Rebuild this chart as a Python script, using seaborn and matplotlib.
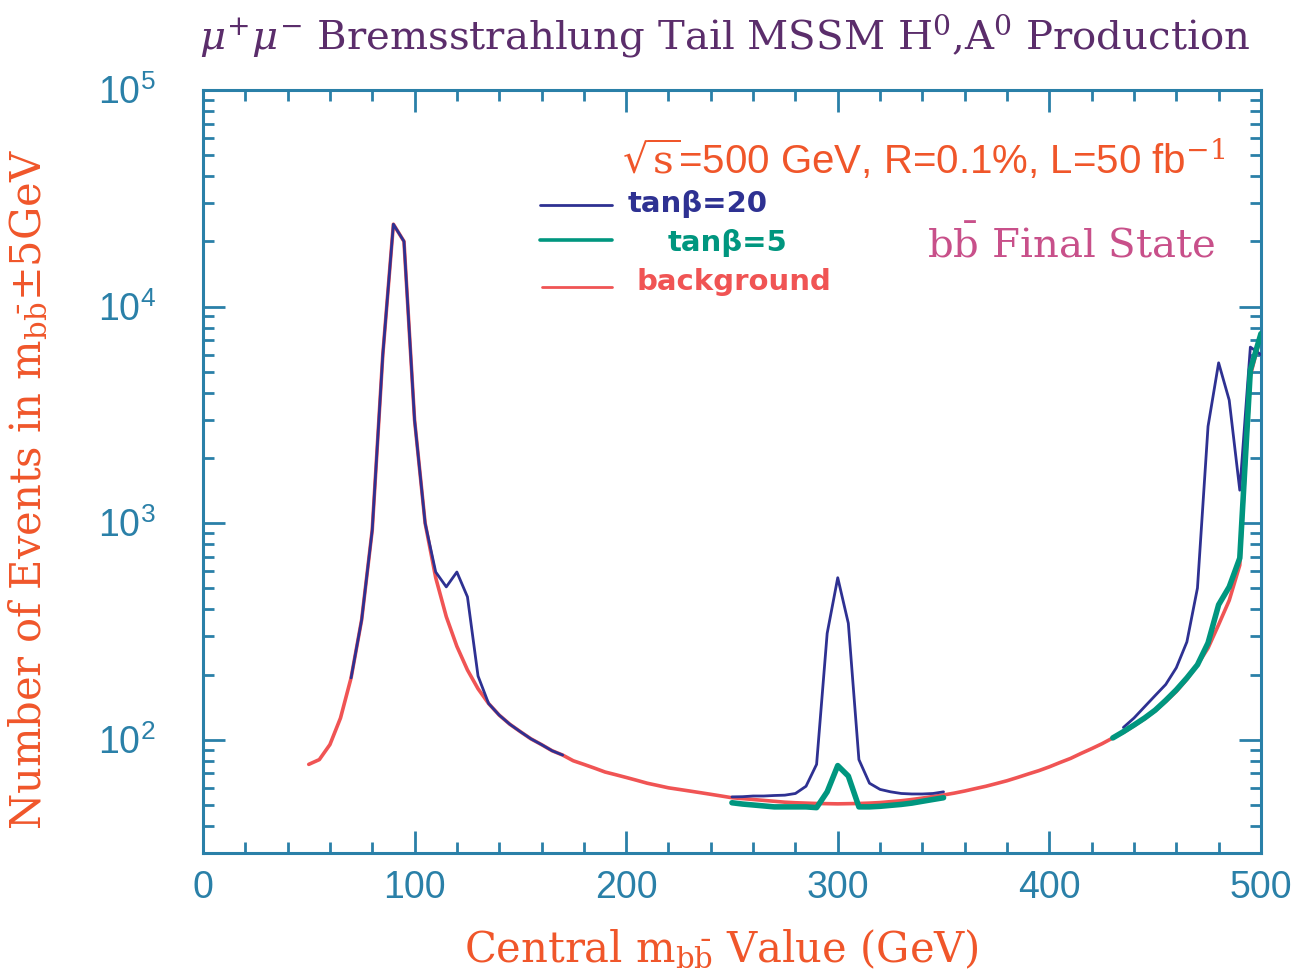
import numpy as np
import pandas as pd
import matplotlib
matplotlib.use("Agg")
import matplotlib.pyplot as plt
import seaborn as sns
from matplotlib.ticker import MultipleLocator, LogLocator, NullFormatter

# ---------------- data ----------------
bg_mass = list(range(50, 505, 5))
bg_events = [77, 81, 95, 126, 193, 358, 930, 6000, 24000, 20000,
             3000, 1000, 560, 370, 270, 210, 172, 147, 130, 118,
             109, 101, 95, 89, 85, 80, 77, 74, 71, 69,
             67, 65, 63, 61.5, 60, 59, 58, 57, 56, 55,
             54, 53.5, 53, 52.5, 52, 51.5, 51.2, 51, 50.8, 50.7,
             50.6, 50.7, 50.8, 51, 51.3, 51.8, 52.3, 53, 53.8, 54.7,
             55.6, 56.7, 58, 59.5, 61, 62.8, 64.7, 67, 69.5, 72,
             75, 78.5, 82, 86.5, 91, 96, 102, 108, 116, 125,
             136, 150, 167, 190, 222, 265, 340, 440, 640, 4800,
             7400]

tb20_mass_a = list(range(70, 175, 5))
tb20_events_a = [193, 358, 930, 6000, 24000, 20000, 3000, 1000, 595, 508,
                 595, 457, 197, 147, 130, 118, 109, 101, 95, 89, 85]
tb20_mass_b = list(range(250, 355, 5))
tb20_events_b = [54.5, 54.6, 55, 55, 55.3, 55.5, 56.5, 61, 77, 310,
                 560, 345, 81, 63, 59, 57.5, 56.5, 56.2, 56.2, 56.5, 57.5]
tb20_mass_c = list(range(435, 505, 5))
tb20_events_c = [114, 126, 142, 160, 180, 215, 283, 502, 2800, 5500,
                 3700, 1420, 6500, 6000]

tb5_mass_a = list(range(250, 355, 5))
tb5_events_a = [51.2, 50.5, 50, 49.5, 49, 49, 49, 49, 48.6, 57.5,
                76, 68, 49, 49, 49.3, 49.8, 50.3, 51, 52, 53, 54]
tb5_mass_b = list(range(430, 505, 5))
tb5_events_b = [102, 109, 117, 126, 137, 152, 170, 193, 222, 280,
                420, 508, 690, 5100, 7500]

x_ticks = [0, 100, 200, 300, 400, 500]

# ---------------- style ----------------
sns.set_style("ticks")
SERIF = ['DejaVu Serif', 'DejaVu Sans']
NARROW = ['Liberation Sans Narrow', 'Liberation Sans', 'DejaVu Sans']
plt.rcParams['font.family'] = SERIF
plt.rcParams['mathtext.fontset'] = 'dejavuserif'

AX_COL = '#2a80a8'
ORANGE = '#f0562a'
C_BLUE = '#2e3192'
C_GREEN = '#00967f'
C_RED = '#f05454'
C_TITLE = '#5b2d6b'
C_PINK = '#c8508a'

fig = plt.figure(figsize=(13.06, 9.75), dpi=100)
ax = fig.add_axes([0.1554, 0.1251, 0.8101, 0.7826])

sns.lineplot(x=bg_mass, y=bg_events, color=C_RED, lw=2.6, ax=ax, zorder=2)
for xs, ys in [(tb20_mass_a, tb20_events_a), (tb20_mass_b, tb20_events_b),
               (tb20_mass_c, tb20_events_c)]:
    sns.lineplot(x=xs, y=ys, color=C_BLUE, lw=2.0, ax=ax, zorder=3)
for xs, ys in [(tb5_mass_a, tb5_events_a), (tb5_mass_b, tb5_events_b)]:
    sns.lineplot(x=xs, y=ys, color=C_GREEN, lw=4.0, ax=ax, zorder=4)

ax.set_yscale('log')
ax.set_xlim(0, 500)
ax.set_ylim(30, 1e5)
ax.set_xticks(x_ticks)
ax.set_xticklabels([str(t) for t in x_ticks])
ax.xaxis.set_minor_locator(MultipleLocator(20))
ax.yaxis.set_major_locator(LogLocator(base=10, numticks=10))
ax.yaxis.set_minor_locator(LogLocator(base=10, subs=np.arange(2, 10), numticks=100))
ax.yaxis.set_minor_formatter(NullFormatter())
ax.yaxis.set_major_formatter(plt.FuncFormatter(
    lambda v, p: r'10$^{\mathdefault{%d}}$' % int(round(np.log10(v)))))

for s in ax.spines.values():
    s.set_visible(True)
    s.set_color(AX_COL)
    s.set_linewidth(2.2)
ax.tick_params(which='both', direction='in', top=True, right=True,
               color=AX_COL, labelcolor=AX_COL, width=2.0)
ax.tick_params(which='major', length=16, labelsize=27)
ax.tick_params(axis='x', which='major', pad=12)
ax.tick_params(axis='y', which='major', pad=34)
ax.tick_params(which='minor', length=8)
for lab in ax.get_xticklabels() + ax.get_yticklabels():
    lab.set_family(NARROW)

ax.set_xlabel(r'Central m$_{\mathrm{b\bar{b}}}$ Value (GeV)', color=ORANGE,
              fontsize=30)
ax.xaxis.set_label_coords(0.49, -0.098)
ax.set_ylabel(r'Number of Events in m$_{\mathrm{b\bar{b}}}$$\pm$5GeV', color=ORANGE,
              fontsize=30)
ax.yaxis.set_label_coords(-0.145, 0.476)

fig.text(0.555, 0.964,
         r'$\mu^{+}\mu^{-}$ Bremsstrahlung Tail MSSM H$^{0}$,A$^{0}$ Production',
         color=C_TITLE, fontsize=29, ha='center', va='center')

ax.text(0.966, 0.908, r'$\sqrt{\mathrm{s}}$=500 GeV, R=0.1%, L=50 fb$^{-1}$',
        transform=ax.transAxes, color=ORANGE, fontsize=29, ha='right', va='center',
        family=['Liberation Sans', 'DejaVu Sans'])
ax.text(0.9565, 0.797, r'b$\bar{\mathrm{b}}$ Final State',
        transform=ax.transAxes, color=C_PINK, fontsize=29, ha='right', va='center')

# legend
ax.plot([0.3185, 0.3866], [0.849, 0.849], transform=ax.transAxes, color=C_BLUE, lw=2.0)
ax.plot([0.3185, 0.3866], [0.8034, 0.8034], transform=ax.transAxes, color=C_GREEN, lw=2.6)
ax.plot([0.3205, 0.3866], [0.7418, 0.7418], transform=ax.transAxes, color=C_RED, lw=2.0)
ax.text(0.4017, 0.851, 'tanβ=20', transform=ax.transAxes, color=C_BLUE,
        fontsize=21, ha='left', va='center', family='DejaVu Sans', weight='bold')
ax.text(0.4395, 0.800, 'tanβ=5', transform=ax.transAxes, color=C_GREEN,
        fontsize=21, ha='left', va='center', family='DejaVu Sans', weight='bold')
ax.text(0.410, 0.749, 'background', transform=ax.transAxes, color=C_RED,
        fontsize=21, ha='left', va='center', family='DejaVu Sans', weight='bold')

fig.savefig('out.png', dpi=100)
